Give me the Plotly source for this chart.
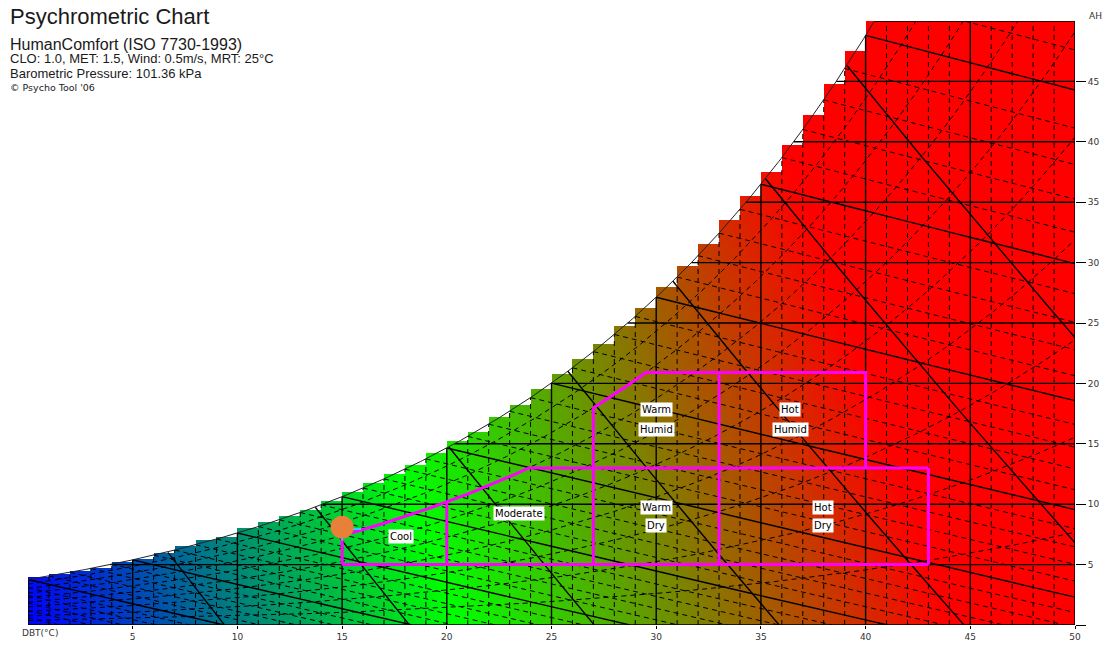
import numpy as np
import plotly.graph_objects as go

# ---- chart constants -------------------------------------------------------
P_KPA = 101.36                      # barometric pressure
DBT_TICKS = [5, 10, 15, 20, 25, 30, 35, 40, 45, 50]
AH_TICKS = [0, 5, 10, 15, 20, 25, 30, 35, 40, 45]
AH_TICK_TEXT = ["", "5", "10", "15", "20", "25", "30", "35", "40", "45"]
SOLID_WET_BULB = [0, 5, 10, 15, 20, 25, 30, 35, 40]
DASHED_WET_BULB = [-6, -5, -4, -3, -2, -1, 1, 2, 3, 4, 6, 7, 8, 9, 11, 12, 13, 14,
                   16, 17, 18, 19, 21, 22, 23, 24, 26, 27, 28, 29, 31, 32, 33, 34,
                   36, 37, 38, 39, 41, 42, 43, 44]
RH_LEVELS = [10, 20, 30, 40, 50, 60, 70, 80, 90]
SPECIFIC_VOLUMES = [0.800, 0.825, 0.850, 0.875, 0.900, 0.925, 0.950]

# comfort zone boundaries (DBT in degC, AH in g/kg, RH in %)
ZONE_T = [15, 20, 27, 33, 40, 43]
ZONE_W_LOW = 5
ZONE_W_MID = 13
ZONE_W_TOP = 20.9
ZONE_RH_COOL = 70
ZONE_RH_WARM = 80
ZONE_LABEL_TEXT = ["Cool", "Moderate", "Warm", "Humid", "Hot", "Humid", "Warm", "Dry", "Hot", "Dry"]
ZONE_LABEL_T = [17.8, 23.45, 30.0, 30.0, 36.4, 36.4, 30.0, 30.0, 37.95, 37.95]
ZONE_LABEL_W = [7.3, 9.25, 17.8, 16.2, 17.8, 16.2, 9.75, 8.25, 9.75, 8.25]

COMFORT_POINT_T = [15.0]
COMFORT_POINT_W = [8.1]

# colour field: blue (cold) -> green (neutral) -> red (hot)
COLOR_T = [0, 20.5, 44]
COLOR_HEX = ["#0000ff", "#00ff00", "#ff0000"]
HUMIDITY_WEIGHT = 0.2

# ---- psychrometric helpers -------------------------------------------------
def p_sat(t):
    return 0.61094 * np.exp(17.625 * t / (t + 243.04))


def w_sat(t):
    ps = p_sat(t)
    return 622.0 * ps / (P_KPA - ps)


_TG = np.linspace(-20, 70, 9001)
_WG = w_sat(_TG)


def t_sat(w):
    return float(np.interp(w, _WG, _TG))


def w_wet_bulb(t, twb):
    ws = w_sat(twb) / 1000.0
    return 1000.0 * ((2501 - 2.326 * twb) * ws - 1.006 * (t - twb)) / (2501 + 1.86 * t - 4.186 * twb)


def w_rh(t, rh):
    ps = p_sat(t) * rh / 100.0
    return 622.0 * ps / (P_KPA - ps)


def w_volume(t, v):
    return (v * P_KPA / (0.287 * (t + 273.15)) - 1.0) / 1.6078 * 1000.0


def clipped(t, w):
    ok = (w >= 0) & (w <= np.minimum(w_sat(t), 50) + 1e-9) & (t >= 0) & (t <= 50)
    xs, ys = [], []
    for ti, wi, k in zip(t, w, ok):
        if k:
            xs.append(float(ti)); ys.append(float(wi))
        elif xs and xs[-1] is not None:
            xs.append(None); ys.append(None)
    xs.append(None); ys.append(None)
    return xs, ys


solid_x, solid_y, dash_x, dash_y = [], [], [], []


def add(target_x, target_y, xs, ys):
    target_x.extend(xs); target_y.extend(ys)


T_FINE = np.linspace(0, 50, 2501)

for twb in SOLID_WET_BULB:
    add(solid_x, solid_y, *clipped(T_FINE, w_wet_bulb(T_FINE, twb)))
for twb in DASHED_WET_BULB:
    add(dash_x, dash_y, *clipped(T_FINE, w_wet_bulb(T_FINE, twb)))
for rh in RH_LEVELS:
    add(dash_x, dash_y, *clipped(T_FINE, w_rh(T_FINE, rh)))
for v in SPECIFIC_VOLUMES:
    add(solid_x, solid_y, *clipped(T_FINE, w_volume(T_FINE, v)))

# dry-bulb verticals
for t in range(0, 51):
    top = min(float(w_sat(t)), 50.0)
    if t % 5 == 0:
        add(solid_x, solid_y, [t, t, None], [0, top, None])
    else:
        add(dash_x, dash_y, [t, t, None], [0, top, None])

# absolute-humidity horizontals
for w in [0, 5, 10, 15, 20, 25, 30, 35, 40, 45, 50]:
    add(solid_x, solid_y, [max(t_sat(w), 0), 50, None], [w, w, None])

# ---- coloured field under the saturation curve -----------------------------
dx, dy = 0.25, 0.25
xc = np.arange(dx / 2, 50, dx)
yc = np.arange(dy / 2, 50, dy)
col_top = w_sat(np.floor(xc) + 0.5)
XX, YY = np.meshgrid(xc, yc)
zval = XX + HUMIDITY_WEIGHT * YY
zval = np.where(YY < col_top[None, :], zval, np.nan)
zlist = [[None if np.isnan(v) else float(v) for v in row] for row in zval]

cmin, cmax = COLOR_T[0], COLOR_T[-1]
colorscale = [[(t - cmin) / (cmax - cmin), c] for t, c in zip(COLOR_T, COLOR_HEX)]

fig = go.Figure()
fig.add_trace(go.Heatmap(x=xc, y=yc, z=zlist, colorscale=colorscale, zmin=cmin, zmax=cmax,
                         showscale=False, hoverinfo="skip"))

fig.add_trace(go.Scatter(x=dash_x, y=dash_y, mode="lines", hoverinfo="skip",
                         line=dict(color="black", width=1, dash="5px,4px")))
fig.add_trace(go.Scatter(x=solid_x, y=solid_y, mode="lines", hoverinfo="skip",
                         line=dict(color="black", width=1.4)))

# saturation curve
ts = np.linspace(0, t_sat(50), 400)
fig.add_trace(go.Scatter(x=ts, y=w_sat(ts), mode="lines", hoverinfo="skip",
                         line=dict(color="#222222", width=1)))

# ---- comfort zones ---------------------------------------------------------
t_cool, t_mod, t_warm, t_hot, t_hum_max, t_dry_max = ZONE_T
_tt = np.linspace(0, 50, 5001)
t_rh70_mid = float(np.interp(ZONE_W_MID, w_rh(_tt, ZONE_RH_COOL), _tt))
t_rh80_top = float(np.interp(ZONE_W_TOP, w_rh(_tt, ZONE_RH_WARM), _tt))

zx, zy = [], []


def seg(xs, ys):
    zx.extend(list(xs) + [None]); zy.extend(list(ys) + [None])


seg([t_cool, t_dry_max], [ZONE_W_LOW, ZONE_W_LOW])
seg([t_dry_max, t_dry_max], [ZONE_W_LOW, ZONE_W_MID])
tr = np.linspace(t_cool, t_rh70_mid, 60)
seg(list(tr) + [t_dry_max], list(w_rh(tr, ZONE_RH_COOL)) + [ZONE_W_MID])
seg([t_cool, t_cool], [ZONE_W_LOW, float(w_rh(t_cool, ZONE_RH_COOL))])
seg([t_mod, t_mod], [ZONE_W_LOW, float(w_rh(t_mod, ZONE_RH_COOL))])
tr2 = np.linspace(t_warm, t_rh80_top, 30)
seg([t_warm] + list(tr2) + [t_hum_max, t_hum_max],
    [ZONE_W_LOW] + list(w_rh(tr2, ZONE_RH_WARM)) + [ZONE_W_TOP, ZONE_W_MID])
seg([t_hot, t_hot], [ZONE_W_LOW, ZONE_W_TOP])

fig.add_trace(go.Scatter(x=zx, y=zy, mode="lines", hoverinfo="skip",
                         line=dict(color="#ff00ff", width=3)))

# marker for the current condition
fig.add_trace(go.Scatter(x=[15.0, 15.0, 15.9], y=[7.0, 7.95, 7.95], mode="lines", hoverinfo="skip",
                         line=dict(color="#33ccff", width=2)))
fig.add_trace(go.Scatter(x=COMFORT_POINT_T, y=COMFORT_POINT_W, mode="markers", hoverinfo="skip",
                         marker=dict(color="#e8803a", size=23, line=dict(width=0))))

for txt, tx, wy in zip(ZONE_LABEL_TEXT, ZONE_LABEL_T, ZONE_LABEL_W):
    fig.add_annotation(x=tx, y=wy, text=txt, showarrow=False, bgcolor="white", borderpad=1,
                       font=dict(family="DejaVu Sans", size=10, color="black"))

# ---- layout ----------------------------------------------------------------
W, H = 1109, 645
ML, MR, MT, MB = 28, 34, 21, 20


def px(x):
    return (x - ML) / (W - ML - MR)


def py(y):
    return (H - MB - y) / (H - MT - MB)


title_lines = [
    ("Psychrometric Chart", 22, 16, "Liberation Sans, Arial"),
    ("HumanComfort (ISO 7730-1993)", 16, 45, "Liberation Sans, Arial"),
    ("CLO: 1.0, MET: 1.5, Wind: 0.5m/s, MRT: 25°C", 13, 59, "Liberation Sans, Arial"),
    ("Barometric Pressure: 101.36 kPa", 13, 74, "Liberation Sans, Arial"),
    ("© Psycho Tool '06", 9.5, 88, "DejaVu Sans"),
]
for txt, size, yc_, fam in title_lines:
    fig.add_annotation(xref="paper", yref="paper", x=px(8), y=py(yc_), text=txt, showarrow=False,
                       xanchor="left", yanchor="middle",
                       font=dict(family=fam, size=size, color="#1a1a1a"))

fig.add_annotation(xref="paper", yref="paper", x=px(40), y=py(633), text="DBT(°C)", showarrow=False,
                   xanchor="center", yanchor="middle", font=dict(family="DejaVu Sans", size=9, color="#333333"))
fig.add_annotation(xref="paper", yref="paper", x=px(1095), y=py(16), text="AH", showarrow=False,
                   xanchor="center", yanchor="middle", font=dict(family="DejaVu Sans", size=9, color="#333333"))

fig.update_layout(
    width=W, height=H, margin=dict(l=ML, r=MR, t=MT, b=MB, autoexpand=False),
    paper_bgcolor="white", plot_bgcolor="white", showlegend=False,
    xaxis=dict(range=[0, 50], showgrid=False, zeroline=False, showline=False, automargin=False,
               tickvals=DBT_TICKS, ticks="outside", ticklen=3, tickcolor="black",
               tickfont=dict(family="DejaVu Sans", size=9, color="#333333")),
    yaxis=dict(range=[0, 50], side="right", showgrid=False, zeroline=False, showline=False,
               automargin=False,
               tickvals=AH_TICKS, ticktext=AH_TICK_TEXT, ticks="outside", ticklen=10,
               tickcolor="black", tickwidth=1.3,
               tickfont=dict(family="DejaVu Sans", size=9, color="#333333")),
)

fig.write_html("out.html")
